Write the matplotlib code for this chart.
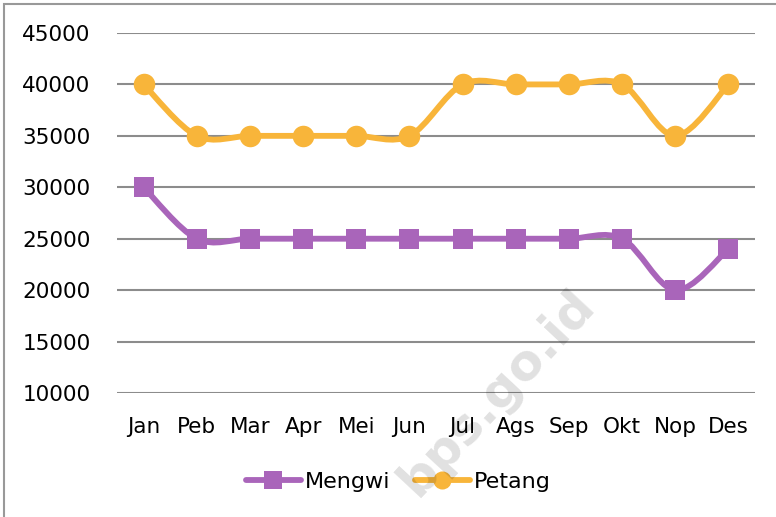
import numpy as np
import matplotlib
matplotlib.use("Agg")
import matplotlib.pyplot as plt
from matplotlib.path import Path
from matplotlib.patches import PathPatch, Rectangle
from matplotlib.lines import Line2D

months = ["Jan", "Peb", "Mar", "Apr", "Mei", "Jun", "Jul", "Ags", "Sep", "Okt", "Nop", "Des"]
mengwi = [30000, 25000, 25000, 25000, 25000, 25000, 25000, 25000, 25000, 25000, 20000, 24000]
petang = [40000, 35000, 35000, 35000, 35000, 35000, 40000, 40000, 40000, 40000, 35000, 40000]
yticks = [10000, 15000, 20000, 25000, 30000, 35000, 40000, 45000]

PURPLE = "#A965BA"
ORANGE = "#F8B53A"

plt.rcParams['font.family'] = ['DejaVu Sans']

W, H = 776, 517
fig = plt.figure(figsize=(W / 100, H / 100), dpi=100)
ax = fig.add_axes([117 / W, 1 - 393 / H, (755 - 117) / W, (393 - 33) / H])


def smooth_path(xs, ys):
    pts = np.column_stack([xs, ys]).astype(float)
    n = len(pts)
    verts = [pts[0]]
    codes = [Path.MOVETO]
    for i in range(n - 1):
        p0 = pts[i]
        p3 = pts[i + 1]
        prev = pts[i - 1] if i > 0 else pts[i]
        nxt = pts[i + 2] if i + 2 < n else pts[i + 1]
        c1 = p0 + (p3 - prev) / 6.0
        c2 = p3 - (nxt - p0) / 6.0
        verts += [c1, c2, p3]
        codes += [Path.CURVE4] * 3
    return Path(verts, codes)


x = np.arange(len(months))
for vals, col, mk in [(mengwi, PURPLE, 's'), (petang, ORANGE, 'o')]:
    patch = PathPatch(smooth_path(x, vals), facecolor='none', edgecolor=col,
                      lw=4.2, capstyle='round', joinstyle='round', zorder=3)
    ax.add_patch(patch)
    ax.plot(x, vals, linestyle='none', marker=mk, markersize=15.5 if mk == 'o' else 15,
            color=col, markeredgewidth=0, zorder=4)

ax.set_xlim(-0.5, len(months) - 0.5)
ax.set_ylim(10000, 45000)
ax.set_yticks(yticks)
ax.set_yticklabels([str(v) for v in yticks])
ax.set_xticks(x)
ax.set_xticklabels(months)
ax.tick_params(axis='both', length=0, labelsize=15.5, colors='black')
ax.tick_params(axis='y', pad=19)
ax.tick_params(axis='x', pad=17)
ax.grid(axis='y', color='#8C8C8C', lw=1.5)
ax.set_axisbelow(True)
for s in ax.spines.values():
    s.set_visible(False)

handles = [
    Line2D([], [], color=PURPLE, lw=4.2, marker='s', markersize=13, markeredgewidth=0,
           solid_capstyle='round'),
    Line2D([], [], color=ORANGE, lw=4.2, marker='o', markersize=13, markeredgewidth=0,
           solid_capstyle='round'),
]
fig.legend(handles, ["Mengwi", "Petang"], loc='center', bbox_to_anchor=(398 / W, 1 - 482 / H),
           ncol=2, frameon=False, fontsize=16, handlelength=2.5, handletextpad=0.15,
           columnspacing=1.1)

# watermark (semi-transparent, on top)
fig.text(497 / W, 1 - 393 / H, "bps.go.id", rotation=47, fontsize=36, fontweight='bold',
         color='black', alpha=0.12, ha='center', va='center', zorder=10)

# chart border (partially visible)
fig.patches.append(Rectangle((4 / W, -0.05), 1.2, 1 - 4 / H + 0.05, transform=fig.transFigure,
                             facecolor='none', edgecolor='#999999', lw=1.5))

fig.savefig("out.png", dpi=100)
